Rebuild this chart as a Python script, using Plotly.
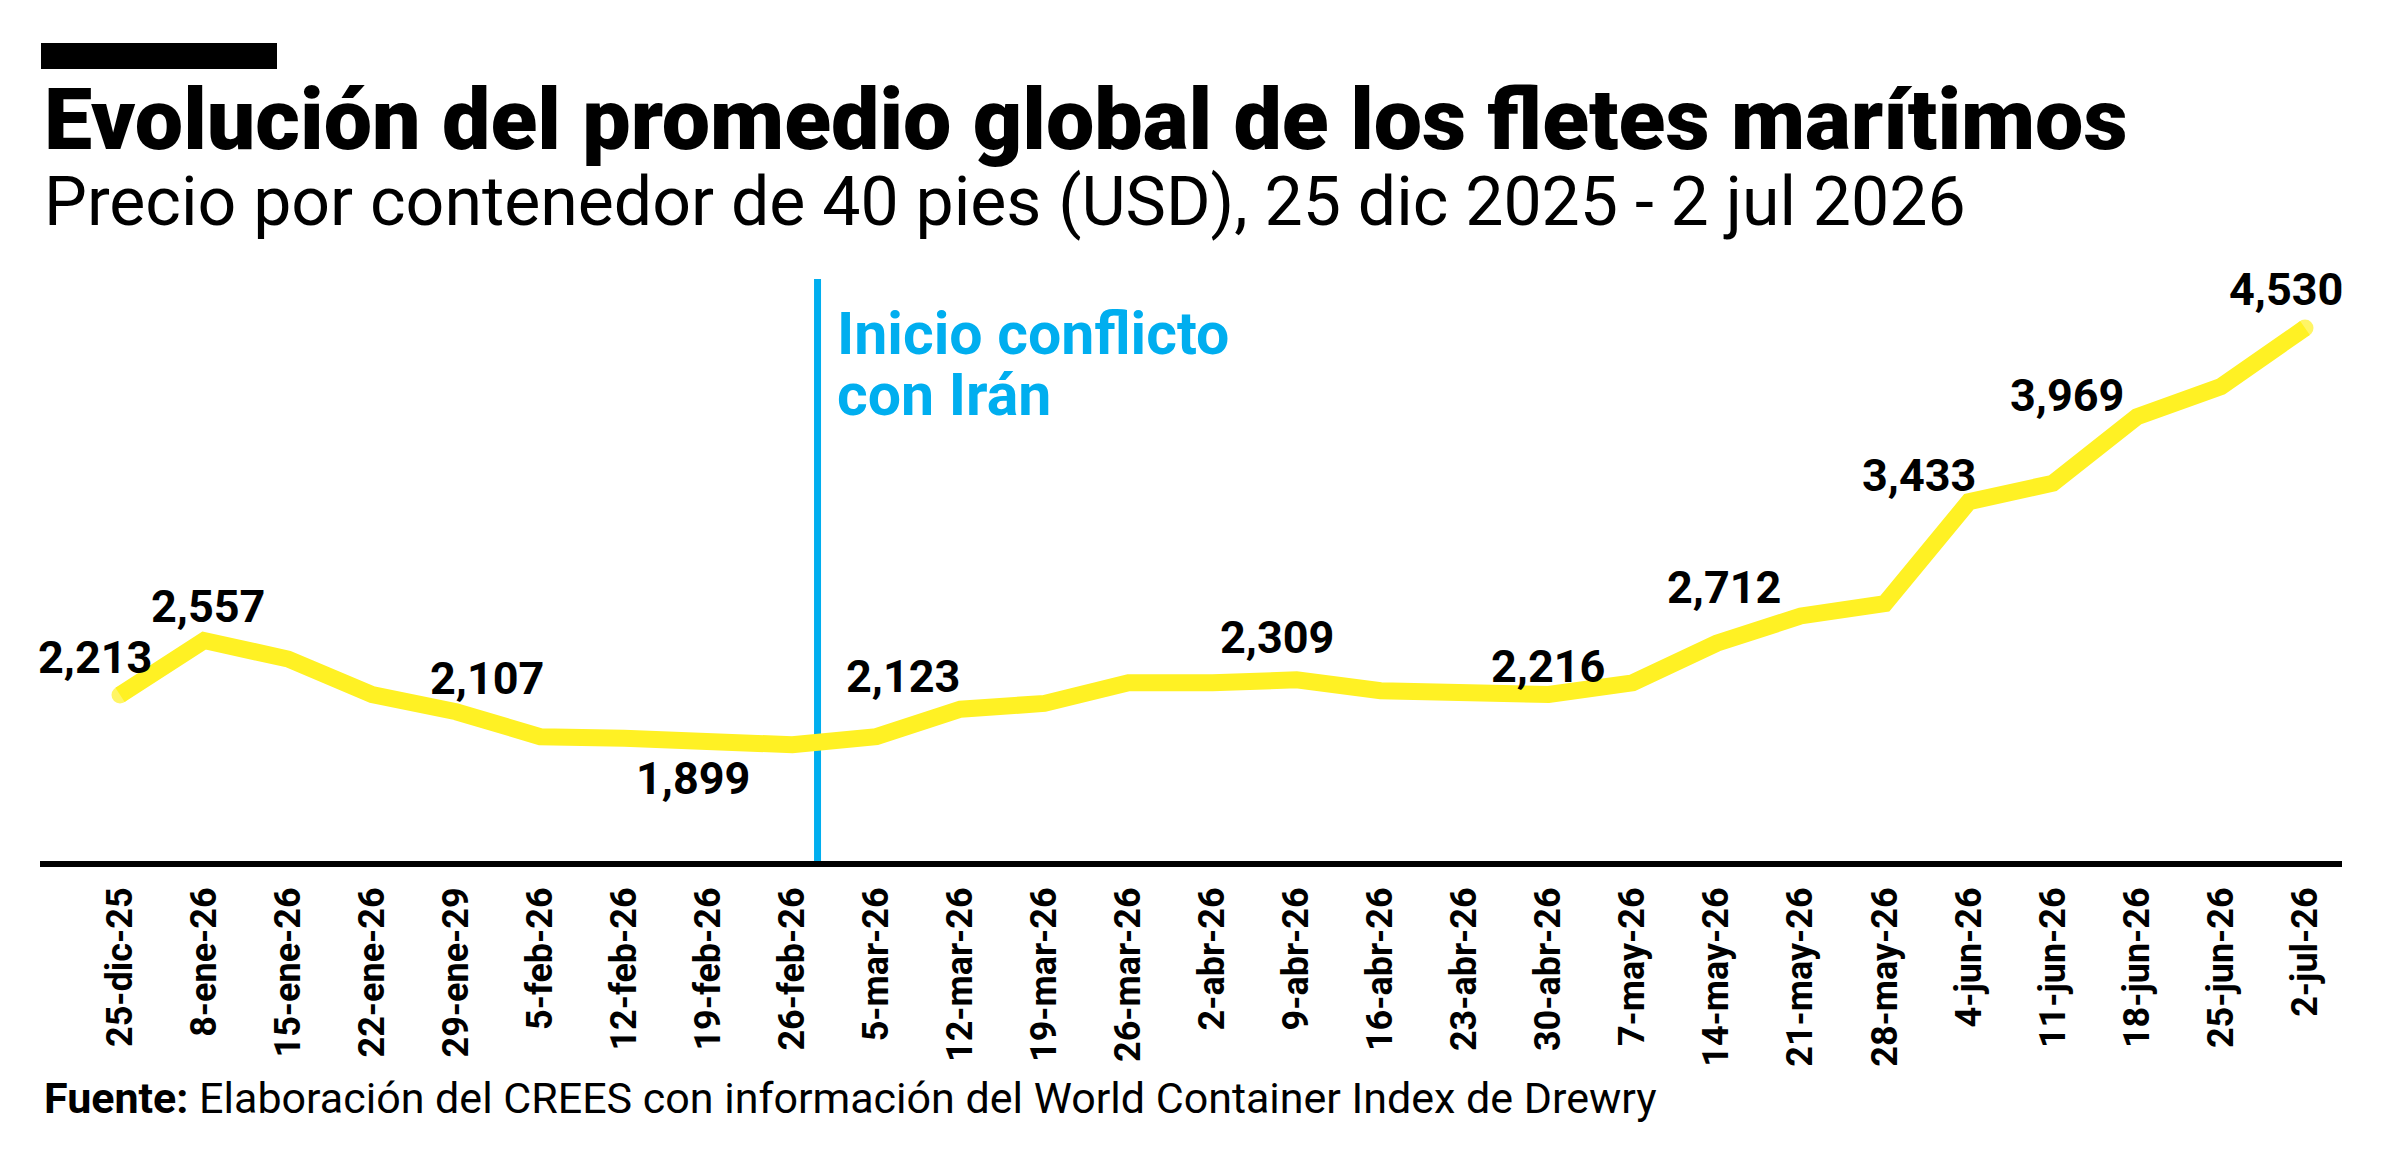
import plotly.graph_objects as go

# ---------------- data ----------------
dates = ["25-dic-25", "8-ene-26", "15-ene-26", "22-ene-26", "29-ene-29", "5-feb-26",
         "12-feb-26", "19-feb-26", "26-feb-26", "5-mar-26", "12-mar-26", "19-mar-26",
         "26-mar-26", "2-abr-26", "9-abr-26", "16-abr-26", "23-abr-26", "30-abr-26",
         "7-may-26", "14-may-26", "21-may-26", "28-may-26", "4-jun-26", "11-jun-26",
         "18-jun-26", "25-jun-26", "2-jul-26"]
prices = [2213, 2557, 2440, 2215, 2107, 1950, 1940, 1925, 1899, 1950, 2123, 2160,
          2290, 2290, 2309, 2240, 2225, 2216, 2290, 2540, 2712, 2790, 3433, 3550,
          3969, 4160, 4530]

# labelled points: (index, text, xshift px, yshift px)
labelled = [(0, "2,213", -25, 37), (1, "2,557", 4, 34), (4, "2,107", 31, 33),
            (8, "1,899", -99, -34), (10, "2,123", -57, 33), (14, "2,309", -20, 42),
            (17, "2,216", -1, 28), (20, "2,712", -77, 28), (22, "3,433", -50, 26),
            (24, "3,969", -70, 21), (26, "4,530", -19, 38)]

conflict_x = 8.3  # between 26-feb and 5-mar

title = "Evolución del promedio global de los fletes marítimos"
subtitle = "Precio por contenedor de 40 pies (USD), 25 dic 2025 - 2 jul 2026"
source_bold = "Fuente:"
source_text = " Elaboración del CREES con información del World Container Index de Drewry"

YELLOW = "#FFF124"
BLUE = "#00AEEF"

W, H = 2400, 1160
L, R, T, B = 40, 58, 270, 299
PW, PH = W - L - R, H - T - B


def px(x):
    return (x - L) / PW


def py(y):
    return (H - B - y) / PH


fig = go.Figure()

sizes = [17] + [0] * (len(prices) - 2) + [17]
fig.add_trace(go.Scatter(
    x=dates, y=prices, mode="lines+markers",
    line=dict(color=YELLOW, width=17),
    marker=dict(color=YELLOW, size=sizes, line=dict(width=0)),
    hoverinfo="skip", showlegend=False,
))

annotations = []
for i, txt, dx, dy in labelled:
    annotations.append(dict(
        x=dates[i], y=prices[i], xref="x", yref="y", text=txt, showarrow=False,
        xshift=dx, yshift=dy, xanchor="center", yanchor="middle",
        font=dict(family="Roboto", size=45, color="black", weight="bold"),
    ))

# conflict annotation
annotations.append(dict(
    x=conflict_x, y=py(333), xref="x", yref="paper", text="Inicio conflicto",
    showarrow=False, xanchor="left", yanchor="middle", xshift=17,
    font=dict(family="Roboto", size=59, color=BLUE, weight="bold"),
))
annotations.append(dict(
    x=conflict_x, y=py(394.5), xref="x", yref="paper", text="con Irán",
    showarrow=False, xanchor="left", yanchor="middle", xshift=17,
    font=dict(family="Roboto", size=59, color=BLUE, weight="bold"),
))

# title, subtitle, source
annotations.append(dict(
    x=px(42), y=py(120), xref="paper", yref="paper", text=title, showarrow=False,
    xanchor="left", yanchor="middle",
    font=dict(family="Roboto", size=86, color="black", weight=900),
))
annotations.append(dict(
    x=px(42), y=py(202), xref="paper", yref="paper", text=subtitle, showarrow=False,
    xanchor="left", yanchor="middle",
    font=dict(family="Roboto", size=68, color="black"),
))
annotations.append(dict(
    x=px(42), y=py(1098), xref="paper", yref="paper",
    text="<b>" + source_bold + "</b>" + source_text, showarrow=False,
    xanchor="left", yanchor="middle",
    font=dict(family="Roboto", size=43, color="black"),
))

shapes = [
    dict(type="rect", xref="paper", yref="paper", x0=px(41), x1=px(277),
         y0=py(69), y1=py(43), fillcolor="black", line=dict(width=0)),
    dict(type="line", xref="x", yref="paper", x0=conflict_x, x1=conflict_x,
         y0=0, y1=py(279), line=dict(color=BLUE, width=7), layer="below"),
]

fig.update_layout(
    width=W, height=H,
    margin=dict(l=L, r=R, t=T, b=B, pad=0),
    paper_bgcolor="white", plot_bgcolor="white",
    annotations=annotations, shapes=shapes,
    showlegend=False,
    xaxis=dict(type="category", range=[-0.952, 26.44], showgrid=False, zeroline=False,
               showline=True, linecolor="black", linewidth=6, ticks="",
               tickangle=-90, ticklabelstandoff=6,
               tickfont=dict(family="Roboto", size=36, color="black", weight="bold"),
               fixedrange=True),
    yaxis=dict(range=[1165, 4896], visible=False, showgrid=False, zeroline=False,
               fixedrange=True),
)

fig.write_html("out.html", config={"displayModeBar": False})
